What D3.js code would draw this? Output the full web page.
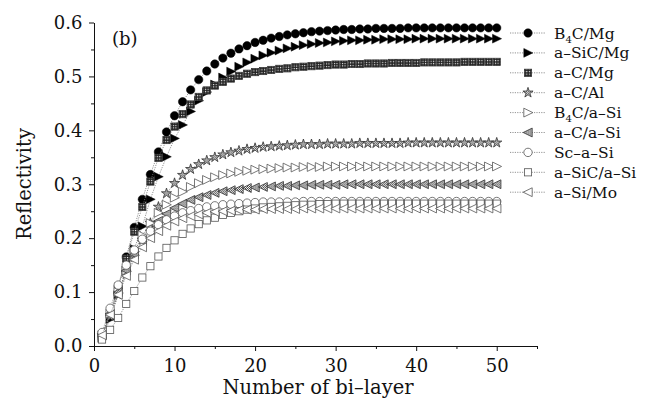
<!DOCTYPE html>
<html><head><meta charset="utf-8">
<script src="https://cdn.jsdelivr.net/npm/d3@7/dist/d3.min.js"></script>
<style>body{margin:0;background:#fff}svg{display:block}text{font-family:"DejaVu Serif",serif;fill:#111}</style>
</head><body><svg id="c" width="647" height="401"></svg>
<script>
const layers = [1,2,3,4,5,6,7,8,9,10,11,12,13,14,15,16,17,18,19,20,21,22,23,24,25,26,27,28,29,30,31,32,33,34,35,36,37,38,39,40,41,42,43,44,45,46,47,48,49,50];
const seriesNames = ["B_4C/Mg","a–SiC/Mg","a–C/Mg","a–C/Al","B_4C/a–Si","a–C/a–Si","Sc–a–Si","a–SiC/a–Si","a–Si/Mo"];
const B4C_Mg = [0.018,0.058,0.110,0.165,0.220,0.272,0.318,0.360,0.397,0.427,0.453,0.475,0.494,0.510,0.523,0.534,0.543,0.551,0.557,0.563,0.567,0.571,0.574,0.577,0.579,0.581,0.583,0.584,0.585,0.586,0.587,0.587,0.588,0.588,0.589,0.589,0.589,0.589,0.590,0.590,0.590,0.590,0.590,0.590,0.590,0.590,0.590,0.590,0.590,0.590];
const aSiC_Mg = [0.015,0.050,0.095,0.140,0.180,0.222,0.272,0.314,0.351,0.385,0.410,0.435,0.455,0.471,0.485,0.498,0.509,0.518,0.526,0.533,0.539,0.544,0.548,0.552,0.555,0.558,0.560,0.562,0.563,0.565,0.566,0.567,0.567,0.568,0.568,0.569,0.569,0.569,0.569,0.570,0.570,0.570,0.570,0.570,0.570,0.570,0.570,0.570,0.570,0.570];
const aC_Mg = [0.020,0.060,0.110,0.162,0.212,0.258,0.305,0.349,0.382,0.407,0.430,0.448,0.462,0.474,0.483,0.490,0.496,0.501,0.505,0.508,0.510,0.512,0.514,0.515,0.517,0.518,0.519,0.520,0.521,0.522,0.522,0.523,0.523,0.524,0.524,0.524,0.525,0.525,0.525,0.525,0.526,0.526,0.526,0.526,0.526,0.527,0.527,0.527,0.527,0.527];
const aC_Al = [0.020,0.055,0.095,0.135,0.165,0.197,0.228,0.258,0.283,0.302,0.317,0.328,0.337,0.344,0.350,0.355,0.359,0.362,0.365,0.367,0.369,0.370,0.371,0.372,0.373,0.374,0.374,0.374,0.375,0.375,0.375,0.375,0.376,0.376,0.376,0.376,0.376,0.376,0.377,0.377,0.377,0.377,0.377,0.377,0.377,0.377,0.377,0.377,0.377,0.377];
const B4C_aSi = [0.020,0.060,0.100,0.140,0.175,0.205,0.228,0.247,0.262,0.275,0.286,0.295,0.302,0.308,0.313,0.317,0.320,0.323,0.325,0.327,0.328,0.329,0.330,0.331,0.331,0.332,0.332,0.332,0.333,0.333,0.333,0.333,0.333,0.333,0.333,0.333,0.333,0.333,0.333,0.333,0.333,0.333,0.333,0.333,0.333,0.333,0.333,0.333,0.333,0.333];
const aC_aSi = [0.020,0.060,0.100,0.140,0.170,0.195,0.215,0.232,0.245,0.256,0.264,0.271,0.276,0.280,0.284,0.287,0.289,0.291,0.293,0.294,0.295,0.296,0.297,0.297,0.298,0.298,0.299,0.299,0.299,0.299,0.300,0.300,0.300,0.300,0.300,0.300,0.300,0.300,0.300,0.300,0.300,0.300,0.300,0.300,0.300,0.300,0.300,0.300,0.300,0.300];
const Sc_aSi = [0.025,0.070,0.113,0.150,0.178,0.198,0.213,0.225,0.234,0.241,0.247,0.251,0.255,0.258,0.260,0.262,0.263,0.264,0.265,0.266,0.267,0.267,0.267,0.267,0.267,0.268,0.268,0.268,0.268,0.268,0.268,0.268,0.268,0.268,0.268,0.268,0.268,0.268,0.268,0.268,0.268,0.268,0.268,0.268,0.268,0.268,0.268,0.268,0.268,0.268];
const aSiC_aSi = [0.012,0.030,0.052,0.078,0.102,0.127,0.148,0.166,0.182,0.196,0.208,0.218,0.226,0.233,0.238,0.243,0.247,0.250,0.253,0.255,0.257,0.258,0.259,0.260,0.261,0.262,0.262,0.263,0.263,0.264,0.264,0.264,0.264,0.264,0.264,0.264,0.264,0.264,0.264,0.264,0.264,0.264,0.264,0.264,0.264,0.264,0.264,0.264,0.264,0.264];
const aSi_Mo = [0.020,0.058,0.095,0.130,0.160,0.183,0.200,0.213,0.223,0.231,0.237,0.241,0.244,0.247,0.249,0.250,0.251,0.252,0.253,0.253,0.254,0.254,0.254,0.254,0.254,0.255,0.255,0.255,0.255,0.255,0.255,0.255,0.255,0.255,0.255,0.255,0.255,0.255,0.255,0.255,0.255,0.255,0.255,0.255,0.255,0.255,0.255,0.255,0.255,0.255];
const xTicks = [0,10,20,30,40,50];
const xMinorTicks = [5,15,25,35,45,55];
const yTicks = [0.0,0.1,0.2,0.3,0.4,0.5,0.6];
const yMinorTicks = [0.05,0.15,0.25,0.35,0.45,0.55];
const xTitle = "Number of bi–layer";
const yTitle = "Reflectivity";
const panelLabel = "(b)";

const allSeries = [B4C_Mg,aSiC_Mg,aC_Mg,aC_Al,B4C_aSi,aC_aSi,Sc_aSi,aSiC_aSi,aSi_Mo];
const markerKinds = ["circleF","triRF","squareP","starP","triRO","triLP","circleO","squareO","triLO"];

const svg = d3.select("#c");
const defs = svg.append("defs");
const pat = defs.append("pattern").attr("id","chk").attr("width",2.5).attr("height",2.5).attr("patternUnits","userSpaceOnUse");
pat.append("rect").attr("width",2.5).attr("height",2.5).attr("fill","#222");
pat.append("rect").attr("x",0.8).attr("y",0.8).attr("width",1.1).attr("height",1.1).attr("fill","#fff");
const pat2 = defs.append("pattern").attr("id","chk2").attr("width",2).attr("height",2).attr("patternUnits","userSpaceOnUse");
pat2.append("rect").attr("width",2).attr("height",2).attr("fill","#fff");
pat2.append("rect").attr("width",1).attr("height",1).attr("fill","#333");
pat2.append("rect").attr("x",1).attr("y",1).attr("width",1).attr("height",1).attr("fill","#555");

const x = d3.scaleLinear().domain([0,55]).range([94,537]);
const y = d3.scaleLinear().domain([0,0.6]).range([346,22.5]);

// axes
const gx = svg.append("g").attr("transform","translate(0,346)");
gx.append("g").call(d3.axisBottom(x).tickValues(xMinorTicks).tickSize(3).tickSizeOuter(0).tickFormat(""));
gx.append("g").call(d3.axisBottom(x).tickValues(xTicks).tickSize(5).tickSizeOuter(0).tickFormat(d3.format("d")));
const gy = svg.append("g").attr("transform","translate(94,0)");
gy.append("g").call(d3.axisLeft(y).tickValues(yMinorTicks).tickSize(3).tickSizeOuter(0).tickFormat(""));
gy.append("g").call(d3.axisLeft(y).tickValues(yTicks).tickSize(5).tickSizeOuter(0).tickFormat(d3.format(".1f")));
svg.selectAll(".domain").attr("stroke","#111");
svg.selectAll(".tick line").attr("stroke","#111");
gx.selectAll(".tick text").attr("font-size",18).attr("font-family","DejaVu Serif").attr("dy","1.0em").attr("fill","#111");
gy.selectAll(".tick text").attr("font-size",18).attr("font-family","DejaVu Serif").attr("dx","-0.2em").attr("fill","#111");

svg.append("text").attr("x",318).attr("y",394).attr("text-anchor","middle").attr("font-size",19.5).text(xTitle);
svg.append("text").attr("transform","translate(31,184) rotate(-90)").attr("text-anchor","middle").attr("font-size",19.5).text(yTitle);
svg.append("text").attr("x",112).attr("y",45).attr("font-size",18).text(panelLabel);

function drawMarker(g, kind){
  let el;
  const s = 4.2;
  if(kind==="circleF"||kind==="circleO"){
    el = g.append("circle").attr("r",s);
  } else if(kind.startsWith("triR")){
    el = g.append("path").attr("d",`M${-s},${-s*1.05}L${s*1.15},0L${-s},${s*1.05}Z`);
  } else if(kind.startsWith("triL")){
    el = g.append("path").attr("d",`M${s},${-s*1.05}L${-s*1.15},0L${s},${s*1.05}Z`);
  } else if(kind.startsWith("square")){
    el = g.append("rect").attr("x",-3.6).attr("y",-3.6).attr("width",7.2).attr("height",7.2);
  } else if(kind==="starP"){
    el = g.append("path").attr("d",d3.symbol(d3.symbolStar,32)());
  }
  const filled = kind.endsWith("F"), patt = kind.endsWith("P");
  const fillP = kind==="squareP" ? "url(#chk)" : "url(#chk2)";
  el.attr("fill", filled ? "#000" : patt ? fillP : "#fff")
    .attr("stroke", filled ? "#000" : patt ? "#333" : "#555")
    .attr("stroke-width", filled ? 0.5 : 0.8);
}

const line = d3.line().x((d,i)=>x(layers[i])).y(d=>y(d));
allSeries.forEach((vals,si)=>{
  const g = svg.append("g");
  g.append("path").attr("d",line(vals)).attr("fill","none").attr("stroke","#777").attr("stroke-width",0.8).attr("stroke-dasharray","1.2,1.2");
  vals.forEach((v,i)=>{
    const m = g.append("g").attr("transform",`translate(${x(layers[i])},${y(v)})`);
    drawMarker(m, markerKinds[si]);
  });
});

// legend
const lg = svg.append("g");
seriesNames.forEach((name,i)=>{
  const yy = 33 + i*19.9;
  lg.append("line").attr("x1",510).attr("x2",546).attr("y1",yy).attr("y2",yy).attr("stroke","#777").attr("stroke-width",0.8).attr("stroke-dasharray","1.2,1.2");
  const m = lg.append("g").attr("transform",`translate(528,${yy})`);
  drawMarker(m, markerKinds[i]);
  const t = lg.append("text").attr("x",554).attr("y",yy+5.5).attr("font-size",15.5);
  const parts = name.split(/_(\d)/);
  parts.forEach((p,j)=>{
    if(j%2===1){ t.append("tspan").attr("font-size",10).attr("dy",4).text(p); }
    else if(p){ const ts = t.append("tspan").text(p); if(j>0) ts.attr("dy",-4); }
  });
});
</script></body></html>
